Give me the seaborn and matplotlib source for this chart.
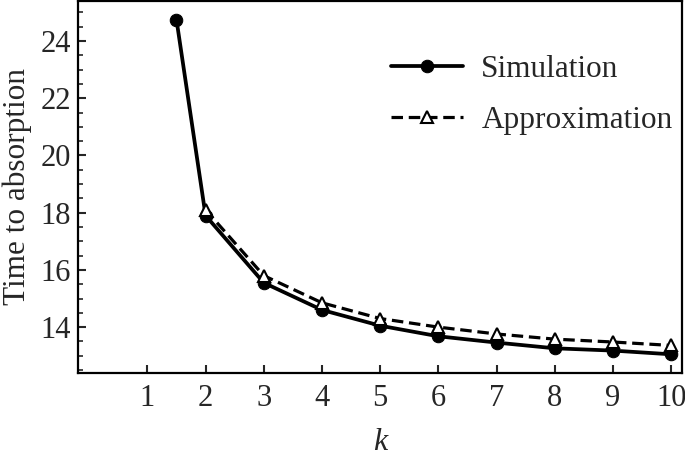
import numpy as np
import pandas as pd
import matplotlib
matplotlib.use("Agg")
import matplotlib.pyplot as plt
from matplotlib.ticker import MultipleLocator
import seaborn as sns

# data
k_sim = [1.5, 2, 3, 4, 5, 6, 7, 8, 9, 10]
t_sim = [24.75, 17.9, 15.55, 14.6, 14.05, 13.68, 13.46, 13.26, 13.18, 13.05]
k_app = [2, 3, 4, 5, 6, 7, 8, 9, 10]
t_app = [18.1, 15.8, 14.85, 14.3, 14.0, 13.76, 13.58, 13.48, 13.36]

sns.set_style("ticks")
plt.rcParams['font.family'] = ['Liberation Serif', 'DejaVu Serif']

fig = plt.figure(figsize=(6.85, 4.57), dpi=100)
ax = fig.add_axes([0.114, 0.184, 0.882, 0.814])

sns.lineplot(x=k_sim, y=t_sim, ax=ax, color='black', lw=2.7, marker='o',
             markersize=9, markeredgecolor='black', label='Simulation')
sns.lineplot(x=k_app, y=t_app, ax=ax, color='black', lw=2.3, ls=(0, (3.6, 1.8)),
             marker='^', markersize=8, markerfacecolor='white',
             markeredgecolor='black', markeredgewidth=1.5, label='Approximation')

ax.set_xlim(-0.19, 10.19)
ax.set_ylim(12.4, 25.4)
ax.set_xticks(range(1, 11))
ax.yaxis.set_major_locator(MultipleLocator(2))
ax.yaxis.set_minor_locator(MultipleLocator(0.5))
ax.set_yticks([14, 16, 18, 20, 22, 24])

ax.tick_params(axis='both', which='major', direction='in', length=6, width=1.5,
               labelsize=22, pad=8)
ax.tick_params(axis='y', which='major', pad=5)
ax.tick_params(axis='y', which='minor', direction='in', length=3.5, width=1.2)
ax.tick_params(axis='x', which='minor', length=0)
for s in ax.spines.values():
    s.set_linewidth(1.6)
    s.set_color('black')

ax.set_xlabel('k', fontsize=23, style='italic', labelpad=11)
ax.set_ylabel('Time to absorption', fontsize=22.5, labelpad=6)

ax.legend(loc='upper right', frameon=False, fontsize=22.5, handlelength=2.3,
          handletextpad=0.6, labelspacing=0.7, borderaxespad=0.2,
          bbox_to_anchor=(1.015, 0.905))

fig.savefig('out.png', dpi=100)
